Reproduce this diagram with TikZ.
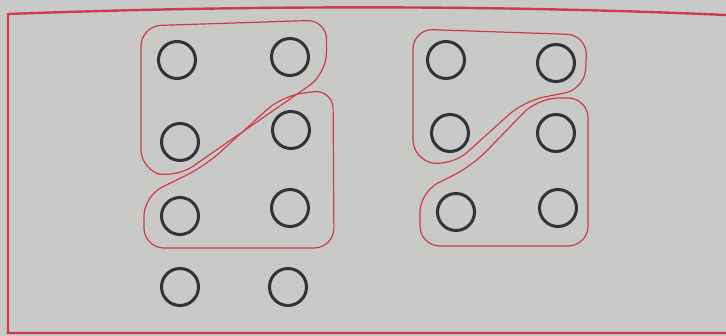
\documentclass[tikz,border=0pt]{standalone}
\definecolor{paper}{RGB}{201,201,199}
\definecolor{pen}{RGB}{205,60,72}
\definecolor{ink}{RGB}{48,52,58}
\tikzset{
  dot/.style={circle,draw=ink,line width=3pt,minimum size=37pt,inner sep=0pt},
  loop/.style={draw=pen,line width=1.2pt,rounded corners=20pt},
  frame/.style={draw=pen,line width=2.4pt}
}
\begin{document}
\begin{tikzpicture}[x=1pt,y=-1pt]
\fill[paper] (0,0) rectangle (726,336);
\useasboundingbox (0,0) rectangle (726,336);
% frame
\draw[frame] (726,15) .. controls (500,5) and (250,5) .. (8,14) -- (8,333) -- (726,333);
% left group
\node[dot] (l11) at (177,60) {};
\node[dot] (l12) at (290,57) {};
\node[dot] (l21) at (180,142) {};
\node[dot] (l22) at (291,130) {};
\node[dot] (l31) at (180,216) {};
\node[dot] (l32) at (290,208) {};
\node[dot] (l41) at (180,287) {};
\node[dot] (l42) at (288,287) {};
% right group
\node[dot] (r11) at (446,60) {};
\node[dot] (r12) at (556,63) {};
\node[dot] (r21) at (450,133) {};
\node[dot] (r22) at (556,133) {};
\node[dot] (r31) at (456,212) {};
\node[dot] (r32) at (558,208) {};
% loops
\draw[loop] (234,23) -- (327,20) -- (326,74) -- (176,178) -- (141,170) -- (141,26) -- cycle;
\draw[loop] (239,248) -- (144,248) -- (144,196) -- (205,166) -- (282,96) -- (333,89) -- (334,248) -- cycle;
\draw[loop] (500,32) -- (587,35) -- (585,89) -- (524,101) -- (452,166) -- (413,160) -- (413,29) -- cycle;
\draw[loop] (504,246) -- (420,246) -- (420,192) -- (472,166) -- (538,98) -- (588,98) -- (588,246) -- cycle;
\end{tikzpicture}
\end{document}
